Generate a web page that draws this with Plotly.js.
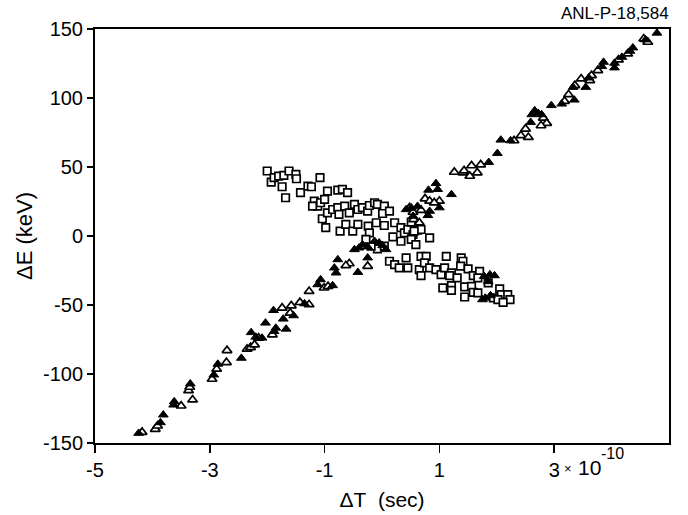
<!DOCTYPE html>
<html>
<head>
<meta charset="utf-8">
<script src="https://cdn.plot.ly/plotly-3.0.1.min.js"></script>
<style>html,body{margin:0;padding:0;background:#fff;}</style>
</head>
<body>
<div id="chart" style="width:688px;height:515px;"></div>
<script>
// Open triangles
const openTriX = [-4.18,-3.95,-3.91,-3.50,-3.37,-3.35,-3.30,-2.96,-2.88,-2.70,-2.71,-2.35,-2.29,-2.22,-2.15,-1.91,-1.74,-1.58,-1.60,-1.43,-1.27,-1.27,
  -0.25,-0.57,-0.63,-1.01,-0.94,
  1.26,0.75,0.83,1.00,0.54,0.68,0.55,0.48,0.65,0.91,1.41,1.53,1.66,1.56,1.72,1.43,
  2.81,2.87,2.77,2.50,2.42,2.55,2.30,3.25,3.18,3.36,3.47,3.76,3.65,3.62,4.12,4.28,4.63,4.56];
const openTriY = [-142.2,-140.0,-137.6,-123.1,-112.0,-109.5,-118.7,-103.7,-96.4,-82.9,-91.6,-81.9,-80.8,-78.8,-73.9,-71.5,-52.1,-50.5,-55.8,-48.1,-49.7,-40.1,
  -21.9,-20.0,-21.4,-37.6,-36.5,
  46.3,27.0,25.3,25.3,17.3,18.7,12.0,20.5,9.6,24.1,45.9,43.4,45.9,51.0,51.7,47.3,
  85.5,81.7,80.0,77.6,72.8,71.5,69.1,102.5,97.7,109.1,113.9,120.0,116.3,112.7,127.7,132.0,140.5,142.9];

// Filled triangles
const fillTriX = [-4.24,-3.86,-3.81,-3.62,-3.63,-3.34,-2.93,-2.86,-2.45,-2.28,-2.20,-2.09,-2.03,-1.88,-1.85,-1.89,-1.72,-1.67,-1.54,-1.35,
  -0.48,-0.40,-0.34,-0.25,-0.13,-0.05,0.01,0.07,-0.25,-0.42,-0.77,-0.83,-0.80,-1.07,-1.12,-0.86,
  0.94,0.97,0.81,1.21,1.00,0.62,0.51,0.42,0.83,0.80,0.54,
  1.78,1.88,1.96,1.85,1.80,1.89,1.75,
  4.79,4.59,4.37,4.32,4.18,4.05,4.05,3.86,3.83,3.60,3.55,3.33,3.13,3.35,2.95,2.66,2.61,2.72,2.78,2.59,2.24,2.07,2.01,1.86];
const fillTriY = [-142.9,-135.2,-129.6,-120.0,-122.4,-107.1,-100.6,-92.8,-88.5,-69.9,-73.2,-73.9,-63.0,-69.1,-66.7,-53.9,-60.1,-67.4,-57.7,-49.0,
  -9.8,-8.6,-6.2,-7.8,-3.8,-4.9,-6.9,-9.8,-15.8,-26.3,-17.1,-23.1,-26.7,-31.6,-35.2,-35.9,
  38.1,33.8,33.3,30.1,20.5,21.6,20.5,19.2,18.0,14.9,14.4,
  -29.2,-28.0,-28.7,-33.0,-44.9,-43.2,-46.1,
  147.1,142.2,136.4,134.0,129.6,125.3,121.9,126.0,122.9,114.6,107.8,107.8,95.7,98.6,94.6,90.9,88.0,89.0,88.0,82.4,69.1,69.6,59.9,53.4];

// Open squares
const squareX = [-2.00,-1.93,-1.88,-1.80,-1.74,-1.71,-1.62,-1.50,-1.49,-1.68,-1.42,-1.29,-1.23,-1.08,-0.95,-0.77,-0.69,-0.60,
  -1.18,-1.12,-1.21,-1.07,-1.00,-1.04,-0.95,-0.86,-0.77,-0.75,-0.65,-0.57,-0.48,-0.42,-0.34,-0.25,-0.22,-0.13,-0.08,0.04,0.01,0.13,
  -0.98,-0.73,-0.63,-0.51,-0.42,-0.24,-0.22,-0.10,0.04,0.22,0.33,0.39,0.45,0.54,0.62,0.68,0.51,0.59,0.83,0.33,0.19,-0.08,-0.19,-0.28,0.04,0.56,0.51,
  0.13,0.22,0.30,0.42,0.45,0.65,0.68,0.77,0.74,0.83,0.94,1.03,1.12,1.09,1.21,1.06,1.21,1.21,
  1.18,1.31,1.38,1.41,1.37,1.50,1.59,1.70,1.67,1.85,1.44,1.56,1.59,1.67,1.44,1.94,2.05,2.08,2.02,2.19,2.23,2.11,0.68];
const squareY = [47.1,39.1,42.3,43.4,35.7,43.9,47.1,44.7,41.5,27.7,31.4,36.2,35.7,42.3,32.5,33.3,33.8,31.4,
  25.3,21.6,21.6,24.1,26.5,12.5,16.8,19.2,20.5,15.6,21.6,16.8,22.9,19.2,20.5,18.0,22.1,24.1,22.9,21.6,16.3,18.0,
  6.0,3.5,8.4,3.5,8.4,7.1,2.3,9.6,7.6,9.6,6.0,2.3,4.7,1.1,4.2,4.7,-2.5,-6.2,-1.3,-3.8,-0.6,-9.3,-7.4,-2.5,-7.4,3.5,10.0,
  -18.3,-20.7,-23.1,-15.8,-23.1,-24.3,-14.7,-14.7,-19.5,-23.1,-24.3,-28.0,-14.7,-23.1,-26.7,-37.6,-35.9,-39.4,
  -28.7,-30.4,-15.8,-18.3,-21.9,-23.8,-28.7,-25.6,-30.4,-34.0,-36.9,-36.5,-40.8,-41.2,-44.2,-44.9,-38.3,-42.5,-46.1,-42.5,-46.1,-48.1,-28.7];

const xTickVals = [-5,-3,-1,1,3];
const xTickText = ['-5','-3','-1','1','3'];
const yTickVals = [-150,-100,-50,0,50,100,150];
const yTickText = ['-150','-100','-50','0','50','100','150'];

const FONT = 'Liberation Sans, Arial, sans-serif';

const traces = [
  {x: squareX, y: squareY, type: 'scatter', mode: 'markers', name: 'squares',
   marker: {symbol: 'square', size: 7.5, color: 'white', line: {color: 'black', width: 1.7}}},
  {x: openTriX, y: openTriY, type: 'scatter', mode: 'markers', name: 'open',
   marker: {symbol: 'triangle-up', size: 8.5, color: 'white', line: {color: 'black', width: 1.7}}},
  {x: fillTriX, y: fillTriY, type: 'scatter', mode: 'markers', name: 'filled',
   marker: {symbol: 'triangle-up', size: 8.5, color: 'black', line: {color: 'black', width: 1}}}
];

const layout = {
  width: 688, height: 515,
  margin: {l: 95, r: 19, t: 29, b: 72},
  paper_bgcolor: 'white', plot_bgcolor: 'white',
  showlegend: false,
  font: {family: FONT, color: 'black', size: 19},
  xaxis: {
    range: [-5, 5], showgrid: false, zeroline: false,
    showline: true, linecolor: 'black', linewidth: 2, mirror: true,
    ticks: 'outside', ticklen: 8, tickwidth: 1.5, tickcolor: 'black',
    tickvals: xTickVals, ticktext: xTickText,
    tickfont: {family: FONT, size: 20, color: 'black'},
    title: {text: 'ΔT\u00a0\u00a0(sec)', font: {family: FONT, size: 21, color: 'black'}, standoff: 12}
  },
  yaxis: {
    range: [-150, 150], showgrid: false, zeroline: false,
    showline: true, linecolor: 'black', linewidth: 2, mirror: true,
    ticks: 'outside', ticklen: 6, tickwidth: 1.5, tickcolor: 'black',
    tickvals: yTickVals, ticktext: yTickText,
    tickfont: {family: FONT, size: 20, color: 'black'},
    title: {text: 'ΔE (keV)', font: {family: FONT, size: 22, color: 'black'}, standoff: 4}
  },
  annotations: [
    {text: 'ANL-P-18,584', xref: 'paper', yref: 'paper', x: 1.0, y: 1.0, xanchor: 'right', yanchor: 'bottom',
     yshift: 4, xshift: 2, showarrow: false, font: {family: FONT, size: 17, color: 'black'}},
    {text: '\u00d7', xref: 'x', yref: 'paper', x: 3, y: 0, xanchor: 'center', yanchor: 'middle',
     xshift: 14, yshift: -25, showarrow: false, font: {family: FONT, size: 13, color: 'black'}},
    {text: '10', xref: 'x', yref: 'paper', x: 3, y: 0, xanchor: 'center', yanchor: 'middle',
     xshift: 35, yshift: -24, showarrow: false, font: {family: FONT, size: 21, color: 'black'}},
    {text: '-10', xref: 'x', yref: 'paper', x: 3, y: 0, xanchor: 'center', yanchor: 'middle',
     xshift: 58, yshift: -10, showarrow: false, font: {family: FONT, size: 16, color: 'black'}}
  ]
};

Plotly.newPlot('chart', traces, layout, {staticPlot: true, displayModeBar: false});
</script>
</body>
</html>
